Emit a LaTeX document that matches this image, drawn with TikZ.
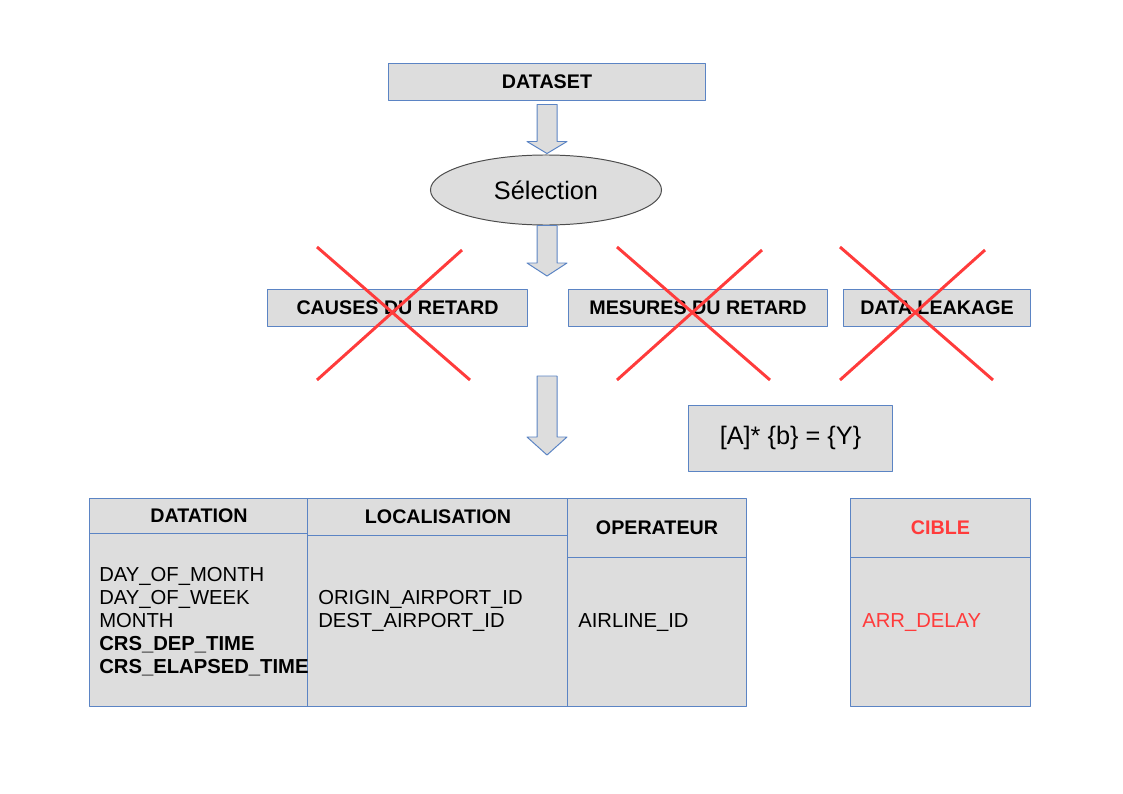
\documentclass[tikz,border=0pt]{standalone}
\usepackage{fontspec}
\setmainfont{Liberation Sans}
\usetikzlibrary{shapes.geometric,calc}
\definecolor{boxfill}{HTML}{DDDDDD}
\definecolor{boxline}{HTML}{5B84C4}
\definecolor{crossred}{HTML}{FF3B3B}
% block arrow: top, tip, head length
\newcommand{\blockarrow}[3]{%
  \draw[blockarrow] ($(#1)+(-10,0)$) -- ($(#2)+(-10,-#3)$) -- ($(#2)+(-20,-#3)$) -- (#2)
    -- ($(#2)+(20,-#3)$) -- ($(#2)+(10,-#3)$) -- ($(#1)+(10,0)$) -- cycle;}
\begin{document}
\begin{tikzpicture}[x=0.025cm, y=-0.025cm, line join=round,
    box/.style={draw=boxline, fill=boxfill, line width=0.7pt, inner sep=0pt,
      font=\fontsize{14}{16}\bfseries\selectfont},
    cell/.style={draw=boxline, fill=boxfill, line width=0.7pt, inner sep=0pt},
    fields/.style={anchor=west, inner sep=0pt, align=left,
      font=\fontsize{14.4}{16.3}\selectfont},
    blockarrow/.style={draw=boxline, fill=boxfill, line width=0.7pt},
    cross/.style={draw=crossred, line width=2.1pt}]
  \useasboundingbox (0,0) rectangle (1123,794);
  % top of the flow
  \node[box, minimum width=7.9cm, minimum height=0.925cm] (dataset) at (547,81.5) {DATASET};
  \node[ellipse, draw=black!70, fill=boxfill, line width=0.7pt, inner sep=0pt,
    minimum width=5.775cm, minimum height=1.75cm, font=\fontsize{18}{20}\selectfont]
    (selection) at (546,190) {Sélection};
  \node[box, minimum width=6.475cm, minimum height=0.925cm] (causes) at (397.5,307.5) {CAUSES DU RETARD};
  \node[box, minimum width=6.45cm, minimum height=0.925cm] (mesures) at (698,307.5) {MESURES DU RETARD};
  \node[box, minimum width=4.65cm, minimum height=0.925cm] (leakage) at (937,307.5) {DATA LEAKAGE};
  \node[box, font=\fontsize{18}{20}\selectfont, minimum width=5.075cm, minimum height=1.65cm]
    (formula) at (790.5,438) {[A]* \{b\} = \{Y\}};
  \coordinate (a2tip) at (547,276);
  \coordinate (a3top) at (547,376);
  \coordinate (a3tip) at (547,455);
  \blockarrow{$(dataset.south)+(0,4)$}{$(selection.north)+(1,-1)$}{12}
  \blockarrow{$(selection.south)+(1,0)$}{a2tip}{13}
  \blockarrow{a3top}{a3tip}{18}
  % crossed out boxes
  \foreach \xl/\xr/\xt in {317/470/462, 617/770/762, 840/993/985}
  {
    \draw[cross] (\xl,247) -- (\xr,380);
    \draw[cross] (\xt,250) -- (\xl,380);
  }
  % table
  \node[box, minimum width=5.45cm, minimum height=0.9cm] (dathead) at (199,516) {DATATION};
  \node[cell, minimum width=5.45cm, minimum height=4.3cm] (datbody) at (199,620) {};
  \node[box, minimum width=6.5cm, minimum height=0.95cm] (lochead) at (438,517) {LOCALISATION};
  \node[cell, minimum width=6.5cm, minimum height=4.25cm] (locbody) at (438,621) {};
  \node[box, minimum width=4.45cm, minimum height=1.5cm] (ophead) at (657,528) {OPERATEUR};
  \node[cell, minimum width=4.45cm, minimum height=3.7cm] (opbody) at (657,632) {};
  \node[box, text=crossred, minimum width=4.475cm, minimum height=1.5cm] (ciblehead) at (940.5,528) {CIBLE};
  \node[cell, minimum width=4.475cm, minimum height=3.7cm] (ciblebody) at (940.5,632) {};
  \node[fields] (datlist) at (99,622) {DAY\_OF\_MONTH\\DAY\_OF\_WEEK\\MONTH\\
    \textbf{CRS\_DEP\_TIME}\\\textbf{CRS\_ELAPSED\_TIME}};
  \node[fields] (loclist) at (318,611) {ORIGIN\_AIRPORT\_ID\\DEST\_AIRPORT\_ID};
  \node[fields] (oplist) at (578,623) {AIRLINE\_ID};
  \node[fields, text=crossred] (ciblelist) at (862,623) {ARR\_DELAY};
\end{tikzpicture}
\end{document}
